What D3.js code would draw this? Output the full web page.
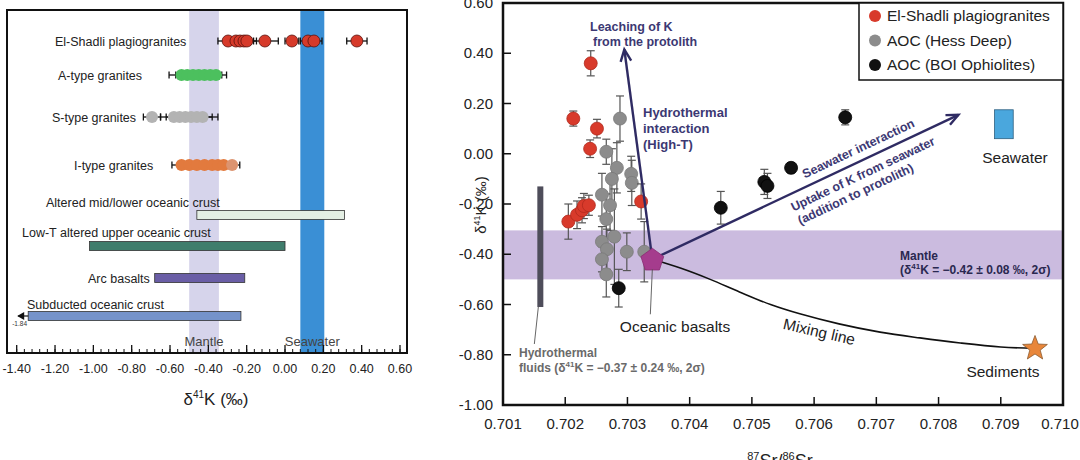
<!DOCTYPE html>
<html><head><meta charset="utf-8">
<script src="https://cdn.jsdelivr.net/npm/d3@7"></script>
<style>body{margin:0;background:#fff;} svg{font-family:"Liberation Sans",Arial,sans-serif;}</style>
</head><body><svg id="c" width="1080" height="460"></svg>
<script>
// ================= DATA =================
// Left panel
const leftRows = ["El-Shadli plagiogranites","A-type granites","S-type granites","I-type granites",
  "Altered mid/lower oceanic crust","Low-T altered upper oceanic crust","Arc basalts","Subducted oceanic crust"];
const elShadliLeft = [[-0.297,0.053],[-0.256,0.05],[-0.235,0.05],[-0.214,0.05],[-0.199,0.05],[-0.105,0.07],[0.036,0.036],[0.12,0.04],[0.151,0.042],[0.375,0.053]];
const aTypeLeft = [[-0.54,0.065],[-0.51,0.06],[-0.48,0.06],[-0.45,0.06],[-0.42,0.06],[-0.39,0.06],[-0.36,0.055]];
const sTypeLeft = [[-0.694,0.045],[-0.58,0.07],[-0.55,0.07],[-0.52,0.07],[-0.49,0.08],[-0.46,0.08],[-0.43,0.08]];
const iTypeLeft = [[-0.54,0.05],[-0.50,0.05],[-0.46,0.05],[-0.42,0.05],[-0.38,0.05],[-0.35,0.05],[-0.32,0.05],[-0.276,0.04]];
const rangeBars = [[-0.46,0.31],[-1.02,0.00],[-0.68,-0.21],[-1.34,-0.23]];
const subductedMin = -1.84;
const mantleRangeLeft = [-0.50,-0.345];
const seawaterRangeLeft = [0.08,0.205];
const leftTicks = [-1.4,-1.2,-1.0,-0.8,-0.6,-0.4,-0.2,0,0.2,0.4,0.6];

// Right panel  [87Sr/86Sr, d41K, 2sd]
const redPts = [[0.70241,0.36,0.05],[0.70213,0.14,0.03],[0.70251,0.10,0.037],[0.70240,0.02,0.035],
  [0.70322,-0.19,0.07],[0.70205,-0.27,0.07],[0.70219,-0.243,0.055],[0.70227,-0.225,0.05],[0.70230,-0.208,0.05],[0.70238,-0.205,0.04]];
const grayPts = [[0.70288,0.14,0.09],[0.70266,0.008,0.05],[0.70283,-0.056,0.1],[0.70275,-0.10,0.12],[0.70306,-0.08,0.07],
  [0.70307,-0.116,0.09],[0.70259,-0.163,0.085],[0.70272,-0.205,0.1],[0.70266,-0.26,0.1],[0.70279,-0.33,0.19],
  [0.70259,-0.35,0.06],[0.70267,-0.38,0.08],[0.70259,-0.42,0.05],[0.70266,-0.48,0.09],[0.70299,-0.39,0.075],[0.70327,-0.39,0.12]];
const blackPts = [[0.70286,-0.535,0.075],[0.7045,-0.215,0.065],[0.70520,-0.112,0.05],[0.70525,-0.128,0.05],[0.70563,-0.056,0.02],[0.7065,0.145,0.03]];
const hydroFluid = [0.7016,-0.61,-0.13];
const oceanicBasalt = [0.7034,-0.42];
const seawaterBox = [0.7089,0.7092,0.06,0.175];
const sediments = [0.70955,-0.775];
const mixingLine = [[0.7034,-0.42],[0.70385,-0.455],[0.70433,-0.50],[0.7048,-0.55],[0.7053,-0.60],[0.70577,-0.637],
  [0.7064,-0.677],[0.70706,-0.71],[0.7077,-0.733],[0.70835,-0.753],[0.709,-0.769],[0.70955,-0.775]];
const leachArrowEnd = [0.70295,0.415];
const seawaterArrowEnd = [0.70832,0.155];
const mantleRangeRight = [-0.50,-0.305];
const xTicksR = [0.701,0.702,0.703,0.704,0.705,0.706,0.707,0.708,0.709,0.710];
const yTicksR = [0.6,0.4,0.2,0,-0.2,-0.4,-0.6,-0.8,-1.0];
const legendItems = ["El-Shadli plagiogranites","AOC (Hess Deep)","AOC (BOI Ophiolites)"];

// ================= DRAW =================
const svg = d3.select("#c");
const ink = "#2f2b63";

// ---------- LEFT PANEL ----------
const L = {left:7, top:10, right:407, bottom:353};
const xL = d3.scaleLinear().domain([-1.4,0.6]).range([16.7,400]);
const yL = d3.scaleOrdinal().domain(leftRows).range([41,75,117,165,215,246,278,316]);
const gL = svg.append("g");

gL.append("rect").attr("x",xL(mantleRangeLeft[0])).attr("y",L.top)
  .attr("width",xL(mantleRangeLeft[1])-xL(mantleRangeLeft[0])).attr("height",L.bottom-L.top).attr("fill","#d6d4eb");
gL.append("rect").attr("x",xL(seawaterRangeLeft[0])).attr("y",L.top)
  .attr("width",xL(seawaterRangeLeft[1])-xL(seawaterRangeLeft[0])).attr("height",L.bottom-L.top).attr("fill","#3a8fd5");

// range bars
const barRows = leftRows.slice(4);
const barFill = ["#e4efe4","#3f7d6c","#6a5ea6","#7593ca"];
barRows.forEach((r,i)=>{
  gL.append("rect").attr("x",xL(rangeBars[i][0])).attr("y",yL(r)-4.5)
    .attr("width",xL(rangeBars[i][1])-xL(rangeBars[i][0])).attr("height",9)
    .attr("fill",barFill[i]).attr("stroke","#333").attr("stroke-width",0.8);
});
// -1.84 arrow
const sy = yL(leftRows[7]);
gL.append("path").attr("d",`M${xL(rangeBars[3][0])},${sy} L${xL(rangeBars[3][0])-10},${sy}`).attr("stroke","#111").attr("stroke-width",1.2);
gL.append("path").attr("d",`M${xL(rangeBars[3][0])-11},${sy} l7,-4 l0,8 z`).attr("fill","#111");
gL.append("text").attr("x",xL(rangeBars[3][0])-16).attr("y",sy+10).attr("font-size",6.5).attr("fill","#333").text(subductedMin.toFixed(2));

// point rows
function leftRow(data,row,fill,stroke,fills){
  const y = yL(row);
  const g = gL.append("g");
  data.forEach(d=>{
    g.append("line").attr("x1",xL(d[0]-d[1])).attr("x2",xL(d[0]+d[1])).attr("y1",y).attr("y2",y).attr("stroke","#111").attr("stroke-width",1.3);
    [d[0]-d[1],d[0]+d[1]].forEach(v=>g.append("line").attr("x1",xL(v)).attr("x2",xL(v)).attr("y1",y-3.5).attr("y2",y+3.5).attr("stroke","#111").attr("stroke-width",1.3));
  });
  data.forEach((d,i)=>{
    g.append("circle").attr("cx",xL(d[0])).attr("cy",y).attr("r",6)
      .attr("fill",fills?fills[i]:fill).attr("stroke",stroke).attr("stroke-width",stroke==="none"?0:0.8);
  });
}
leftRow(elShadliLeft,leftRows[0],"#d63a2a","#5a120c");
leftRow(aTypeLeft,leftRows[1],"#4cc05e","none");
leftRow(sTypeLeft,leftRows[2],"#b3b3b3","none");
leftRow(iTypeLeft,leftRows[3],"#e27a3e","none",iTypeLeft.map((d,i)=>i===iTypeLeft.length-1?"#dc9470":"#e27a3e"));

// row labels
const labelX = [55,58,52,74,46,22,88,27];
const labelDy = [4.5,4.5,4.5,4.5,-8,-9,4.5,-7];
leftRows.forEach((r,i)=>{
  gL.append("text").attr("x",labelX[i]).attr("y",yL(r)+labelDy[i]).attr("font-size",12.5).attr("fill","#222").text(r);
});
gL.append("text").attr("x",(xL(mantleRangeLeft[0])+xL(mantleRangeLeft[1]))/2).attr("y",346).attr("text-anchor","middle").attr("font-size",13).attr("fill","#444").text("Mantle");
gL.append("text").attr("x",(xL(seawaterRangeLeft[0])+xL(seawaterRangeLeft[1]))/2).attr("y",346).attr("text-anchor","middle").attr("font-size",13).attr("fill","#444").text("Seawater");

// frame + axis
gL.append("rect").attr("x",L.left).attr("y",L.top).attr("width",L.right-L.left).attr("height",L.bottom-L.top).attr("fill","none").attr("stroke","#111").attr("stroke-width",2);
const minorTicks = d3.range(-1.4,0.601,0.04);
minorTicks.forEach(v=>gL.append("line").attr("x1",xL(v)).attr("x2",xL(v)).attr("y1",L.bottom).attr("y2",L.bottom-4).attr("stroke","#111").attr("stroke-width",1));
leftTicks.forEach(v=>{
  gL.append("line").attr("x1",xL(v)).attr("x2",xL(v)).attr("y1",L.bottom).attr("y2",L.bottom-8).attr("stroke","#111").attr("stroke-width",1.3);
  gL.append("text").attr("x",xL(v)).attr("y",373).attr("text-anchor","middle").attr("font-size",12.5).attr("fill","#222").text(v.toFixed(2));
});
const tL = gL.append("text").attr("x",216).attr("y",405).attr("text-anchor","middle").attr("font-size",17).attr("fill","#222");
tL.append("tspan").text("δ");
tL.append("tspan").attr("dy",-7).attr("font-size",10).text("41");
tL.append("tspan").attr("dy",7).text("K (‰)");

// ---------- RIGHT PANEL ----------
const R = {left:503, top:3, right:1063, bottom:405};
const xR = d3.scaleLinear().domain([0.701,0.710]).range([R.left,R.right]);
const yR = d3.scaleLinear().domain([-1.0,0.6]).range([R.bottom,R.top]);
const gR = svg.append("g");

gR.append("rect").attr("x",R.left).attr("y",yR(mantleRangeRight[1])).attr("width",R.right-R.left)
  .attr("height",yR(mantleRangeRight[0])-yR(mantleRangeRight[1])).attr("fill","#cbbbdf");

// hydrothermal fluids bar
gR.append("rect").attr("x",xR(hydroFluid[0])-3).attr("y",yR(hydroFluid[2])).attr("width",6)
  .attr("height",yR(hydroFluid[1])-yR(hydroFluid[2])).attr("fill","#4e4d5a");
gR.append("line").attr("x1",xR(hydroFluid[0])-2).attr("y1",yR(hydroFluid[1])).attr("x2",xR(hydroFluid[0])-6).attr("y2",yR(hydroFluid[1])+37).attr("stroke","#555").attr("stroke-width",0.9);

// error bars + points
function errPts(data,fill,stroke){
  const g = gR.append("g");
  data.forEach(d=>{
    const x = xR(d[0]);
    g.append("line").attr("x1",x).attr("x2",x).attr("y1",yR(d[1]-d[2])).attr("y2",yR(d[1]+d[2])).attr("stroke","#555").attr("stroke-width",1.2);
    [d[1]-d[2],d[1]+d[2]].forEach(v=>g.append("line").attr("x1",x-4).attr("x2",x+4).attr("y1",yR(v)).attr("y2",yR(v)).attr("stroke","#555").attr("stroke-width",1.2));
  });
  data.forEach(d=>g.append("circle").attr("cx",xR(d[0])).attr("cy",yR(d[1])).attr("r",6.5).attr("fill",fill).attr("stroke",stroke).attr("stroke-width",0.8));
}
errPts(grayPts,"#8c8c8c","#7a7a7a");
errPts(redPts,"#d83a2b","#b02a1d");
errPts(blackPts,"#111","#000");

// mixing line
gR.append("path").datum(mixingLine).attr("d",d3.line().x(d=>xR(d[0])).y(d=>yR(d[1])).curve(d3.curveCatmullRom))
  .attr("fill","none").attr("stroke","#111").attr("stroke-width",1.6);

// arrows
function arrow(p0,p1){
  const x0=xR(p0[0]),y0=yR(p0[1]),x1=xR(p1[0]),y1=yR(p1[1]);
  const a=Math.atan2(y1-y0,x1-x0);
  gR.append("line").attr("x1",x0).attr("y1",y0).attr("x2",x1).attr("y2",y1).attr("stroke",ink).attr("stroke-width",2.4);
  const h=13,s=0.42;
  gR.append("path").attr("d",`M${x1-h*Math.cos(a-s)},${y1-h*Math.sin(a-s)} L${x1},${y1} L${x1-h*Math.cos(a+s)},${y1-h*Math.sin(a+s)}`)
    .attr("fill","none").attr("stroke",ink).attr("stroke-width",2.4).attr("stroke-linejoin","miter");
}
arrow(oceanicBasalt,leachArrowEnd);
arrow(oceanicBasalt,seawaterArrowEnd);

// pentagon (oceanic basalts)
const pcx = xR(oceanicBasalt[0]), pcy = yR(oceanicBasalt[1]);
const pent = d3.range(5).map(i=>{const a=-Math.PI/2+i*2*Math.PI/5; return [pcx+12*Math.cos(a), pcy+1+12*Math.sin(a)];});
gR.append("polygon").attr("points",pent.map(p=>p.join(",")).join(" ")).attr("fill","#a53c8d").attr("stroke","#8a2c74").attr("stroke-width",0.8);
gR.append("line").attr("x1",pcx).attr("y1",pcy+10).attr("x2",pcx-2).attr("y2",pcy+55).attr("stroke","#555").attr("stroke-width",0.9);

// seawater box
gR.append("rect").attr("x",xR(seawaterBox[0])).attr("y",yR(seawaterBox[3])).attr("width",xR(seawaterBox[1])-xR(seawaterBox[0]))
  .attr("height",yR(seawaterBox[2])-yR(seawaterBox[3])).attr("fill","#4aa7dd").attr("stroke","#2d5f80").attr("stroke-width",0.8);

// sediments star
const scx = xR(sediments[0]), scy = yR(sediments[1]);
const star = d3.range(10).map(i=>{const a=-Math.PI/2+i*Math.PI/5, r=i%2?5.5:13; return [scx+r*Math.cos(a), scy+r*Math.sin(a)];});
gR.append("polygon").attr("points",star.map(p=>p.join(",")).join(" ")).attr("fill","#e8863a").attr("stroke","#8a5a30").attr("stroke-width",0.8);

// frame & axes
gR.append("rect").attr("x",R.left).attr("y",R.top).attr("width",R.right-R.left).attr("height",R.bottom-R.top).attr("fill","none").attr("stroke","#111").attr("stroke-width",2.5);
xTicksR.forEach((v,i)=>{
  gR.append("line").attr("x1",xR(v)).attr("x2",xR(v)).attr("y1",R.bottom).attr("y2",R.bottom-8).attr("stroke","#111").attr("stroke-width",1.5);
  gR.append("text").attr("x",xR(v)-(i===xTicksR.length-1?3:0)).attr("y",429).attr("text-anchor","middle").attr("font-size",15).attr("fill","#222").text(v.toFixed(3));
});
yTicksR.forEach(v=>{
  gR.append("line").attr("x1",R.left).attr("x2",R.left+8).attr("y1",yR(v)).attr("y2",yR(v)).attr("stroke","#111").attr("stroke-width",1.5);
  gR.append("text").attr("x",493).attr("y",yR(v)+5).attr("text-anchor","end").attr("font-size",15).attr("fill","#222").text(v.toFixed(2));
});
const tx = gR.append("text").attr("x",780).attr("y",467).attr("text-anchor","middle").attr("font-size",18).attr("fill","#222");
tx.append("tspan").attr("dy",-7).attr("font-size",11).text("87");
tx.append("tspan").attr("dy",7).text("Sr/");
tx.append("tspan").attr("dy",-7).attr("font-size",11).text("86");
tx.append("tspan").attr("dy",7).text("Sr");
const ty = gR.append("text").attr("transform","translate(486,205) rotate(-90)").attr("text-anchor","middle").attr("font-size",15).attr("fill","#222");
ty.append("tspan").text("δ");
ty.append("tspan").attr("dy",-6).attr("font-size",9).text("41");
ty.append("tspan").attr("dy",6).text("K (‰)");

// legend
gR.append("rect").attr("x",859).attr("y",R.top).attr("width",R.right-859).attr("height",77).attr("fill","#fff").attr("stroke","#111").attr("stroke-width",1.5);
const legFill = ["#d83a2b","#8c8c8c","#111"];
legendItems.forEach((t,i)=>{
  gR.append("circle").attr("cx",875).attr("cy",16+i*24.5).attr("r",6).attr("fill",legFill[i]);
  gR.append("text").attr("x",887).attr("y",21+i*24.5).attr("font-size",15.5).attr("fill","#222").text(t);
});

// annotations
function lines(x,y,arr,opts){
  const t = gR.append("text").attr("x",x).attr("y",y).attr("font-size",opts.size).attr("font-weight",opts.bold?"bold":"normal").attr("fill",opts.color).attr("text-anchor",opts.anchor||"start");
  arr.forEach((s,i)=>{ const ts=t.append("tspan").attr("x",x+(opts.ind?opts.ind[i]:0)).attr("dy",i?opts.lh:0); 
    if(Array.isArray(s)) s.forEach(p=>ts.append("tspan").attr("dy",p[1]||null).attr("font-size",p[2]||null).text(p[0])); else ts.text(s); });
  return t;
}
lines(590,31,["Leaching of K","from the protolith"],{size:12.5,bold:true,color:"#3c3873",lh:15,ind:[0,3]});
lines(643,117,["Hydrothermal","interaction","(High-T)"],{size:13,bold:true,color:"#3c3873",lh:16});
lines(900,260,["Mantle",[["(δ"],["41",-5,8],["K = −0.42 ± 0.08 ‰, 2σ)",5]]],{size:12,bold:true,color:"#2a2850",lh:14});
lines(519,357,["Hydrothermal",[["fluids (δ"],["41",-5,8],["K = −0.37 ± 0.24 ‰, 2σ)",5]]],{size:12,bold:true,color:"#6a6a6a",lh:15});
gR.append("text").attr("x",675).attr("y",332).attr("text-anchor","middle").attr("font-size",15.5).attr("fill","#222").text("Oceanic basalts");
gR.append("text").attr("x",1015).attr("y",163).attr("text-anchor","middle").attr("font-size",15.5).attr("fill","#222").text("Seawater");
gR.append("text").attr("x",1003).attr("y",377).attr("text-anchor","middle").attr("font-size",15.5).attr("fill","#222").text("Sediments");
gR.append("text").attr("transform","translate(818,337) rotate(13)").attr("text-anchor","middle").attr("font-size",15.5).attr("fill","#222").text("Mixing line");

// text along seawater arrow
const sx0=xR(oceanicBasalt[0]), sy0=yR(oceanicBasalt[1]), sx1=xR(seawaterArrowEnd[0]), sy1=yR(seawaterArrowEnd[1]);
const ang = Math.atan2(sy1-sy0,sx1-sx0)*180/Math.PI;
function along(t,dy,txt){
  const px=sx0+(sx1-sx0)*t, py=sy0+(sy1-sy0)*t;
  gR.append("text").attr("transform",`translate(${px},${py}) rotate(${ang})`).attr("y",dy).attr("text-anchor","middle")
    .attr("font-size",12.5).attr("font-weight","bold").attr("fill","#3c3873").text(txt);
}
along(0.69,-8,"Seawater interaction");
along(0.67,17,"Uptake of K from seawater");
along(0.625,32,"(addition to protolith)");
</script></body></html>
